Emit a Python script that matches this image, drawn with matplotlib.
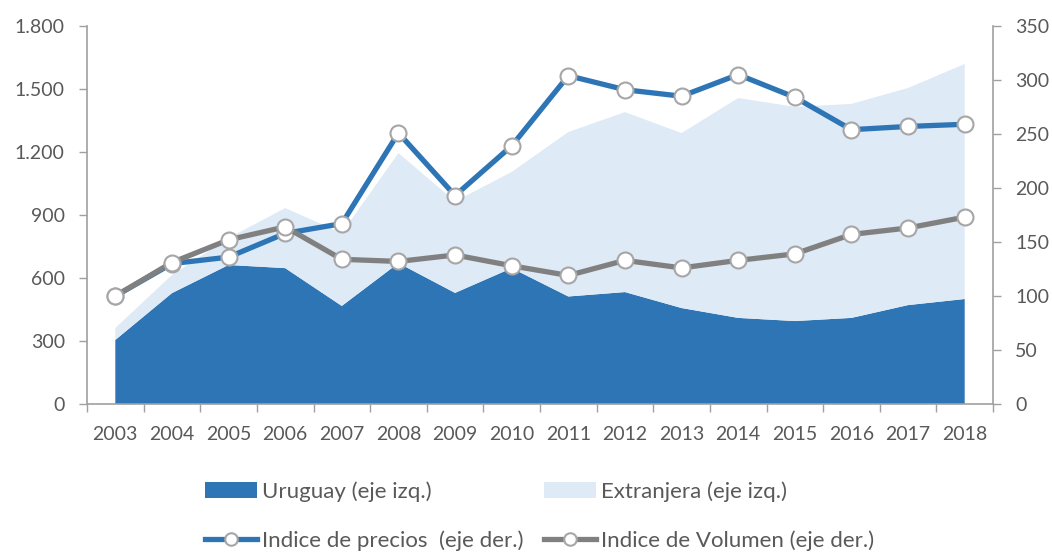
import matplotlib
matplotlib.use("Agg")
import matplotlib.pyplot as plt
from matplotlib.ticker import FuncFormatter, FixedLocator
import numpy as np

years = ["2003", "2004", "2005", "2006", "2007", "2008", "2009", "2010",
         "2011", "2012", "2013", "2014", "2015", "2016", "2017", "2018"]
uruguay = [305, 528, 662, 647, 467, 671, 529, 647, 512, 533, 457, 410, 395, 410, 471, 500]
total = [362, 614, 790, 933, 814, 1195, 965, 1105, 1295, 1390, 1290, 1457, 1415, 1429, 1505, 1619]
extranjera = [t - u for t, u in zip(total, uruguay)]
precios = [100, 130, 136, 158, 167, 251, 193, 239, 304, 291, 285, 305, 284, 254, 257, 259]
volumen = [100, 131, 152, 164, 134, 132, 138, 128, 119, 133, 126, 133, 139, 157, 163, 173]

left_ticks = [0, 300, 600, 900, 1200, 1500, 1800]
right_ticks = [0, 50, 100, 150, 200, 250, 300, 350]

plt.rcParams['font.family'] = ['Lato', 'DejaVu Sans']
txt = '#595959'
spine_c = '#A0A0A0'
c_uru = '#2E75B6'
c_ext = '#DEEAF6'
c_vol = '#808080'
fs = 14
lfs = 16

W, H = 1052, 554
fig = plt.figure(figsize=(W / 100, H / 100), dpi=100)
ax = fig.add_axes([87 / W, (H - 404) / H, 906 / W, 378 / H])
x = np.arange(len(years))

ax.stackplot(x, uruguay, extranjera, colors=[c_uru, c_ext], linewidth=0,
             labels=["Uruguay (eje izq.)", "Extranjera (eje izq.)"])
ax.set_xlim(-0.5, len(years) - 0.5)
ax.set_ylim(0, 1800)
ax.set_yticks(left_ticks)
ax.yaxis.set_major_formatter(FuncFormatter(lambda v, p: f"{int(v):,}".replace(",", ".")))
ax.set_xticks(x)
ax.set_xticklabels(years)
ax.xaxis.set_minor_locator(FixedLocator(np.arange(-0.5, len(years), 1.0)))
ax.tick_params(axis='x', which='major', length=0, pad=16, labelsize=fs, colors=txt)
ax.tick_params(axis='x', which='minor', length=6, color=spine_c, width=1)
ax.tick_params(axis='y', length=6, color=spine_c, width=1, labelsize=fs,
               labelcolor=txt, pad=10)
for s in ['top', 'right']:
    ax.spines[s].set_visible(False)
for s in ['left', 'bottom']:
    ax.spines[s].set_color(spine_c)
    ax.spines[s].set_linewidth(1.2)

ax2 = ax.twinx()
ax2.set_ylim(0, 350)
ax2.set_yticks(right_ticks)
ax2.tick_params(axis='y', length=6, color=spine_c, width=1, labelsize=fs,
                labelcolor=txt, pad=10)
for s in ['top', 'left', 'bottom']:
    ax2.spines[s].set_visible(False)
ax2.spines['right'].set_color(spine_c)
ax2.spines['right'].set_linewidth(1.2)

mk = dict(marker='o', markersize=11.5, markerfacecolor='white',
          markeredgecolor='#A6A6A6', markeredgewidth=1.5, linewidth=3.8)
l1, = ax2.plot(x, precios, color=c_uru, label="Indice de precios  (eje der.)", **mk)
l2, = ax2.plot(x, volumen, color=c_vol, label="Indice de Volumen (eje der.)", **mk)

h, lab = ax.get_legend_handles_labels()
handles = [h[0], l1, h[1], l2]
labels = [lab[0], l1.get_label(), lab[1], l2.get_label()]
leg = fig.legend(handles, labels, ncol=2, loc='lower left',
                 bbox_to_anchor=(185 / W, -17 / H), frameon=False,
                 fontsize=lfs, labelcolor=txt, handlelength=2.35,
                 handleheight=0.75, handletextpad=0.22, columnspacing=0.9,
                 labelspacing=1.3)
for lh in leg.legend_handles:
    if hasattr(lh, 'set_markersize'):
        lh.set_markersize(9)

fig.savefig("out.png", dpi=100)
